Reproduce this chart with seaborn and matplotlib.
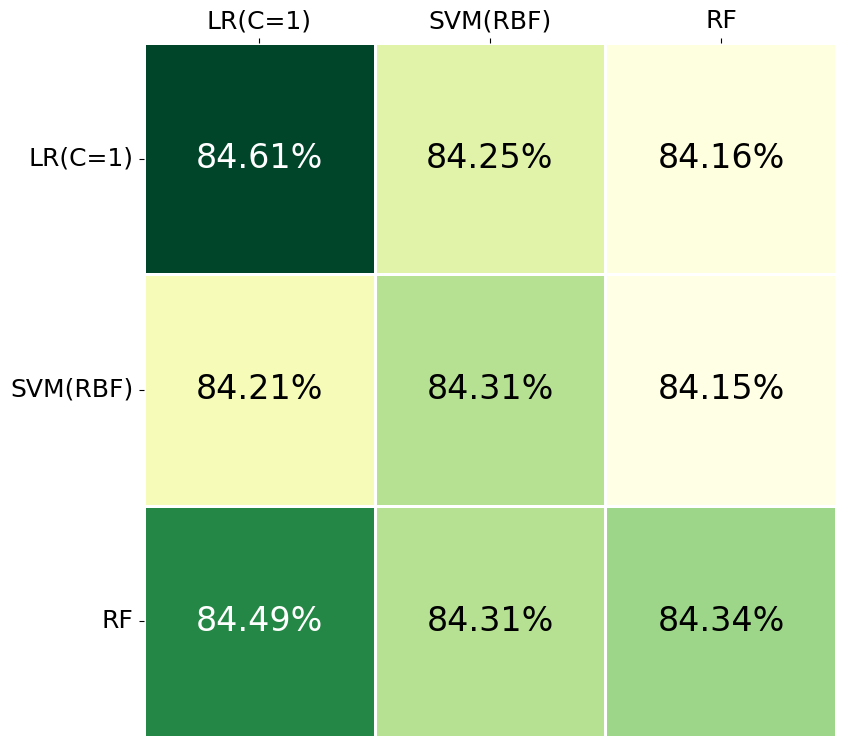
import matplotlib
matplotlib.use("Agg")
import matplotlib.pyplot as plt
import seaborn as sns
import numpy as np
import pandas as pd

models = ["LR(C=1)", "SVM(RBF)", "RF"]
row_lr = [84.61, 84.25, 84.16]
row_svm = [84.21, 84.31, 84.15]
row_rf = [84.49, 84.31, 84.34]

df = pd.DataFrame([row_lr, row_svm, row_rf], index=models, columns=models)
annot = df.map(lambda v: f"{v:.2f}%")

fig = plt.figure(figsize=(8.47, 7.48), dpi=100)
ax = fig.add_axes([0.1695, 0.0147, 0.818, 0.928])
sns.heatmap(df, ax=ax, cmap="YlGn", annot=annot, fmt="", cbar=False,
            linewidths=2, linecolor="white",
            annot_kws={"fontsize": 24})
for t in ax.texts:
    lum = np.mean(matplotlib.colors.to_rgb(t.get_color()))
    t.set_color("white" if lum > 0.5 else "black")
ax.xaxis.tick_top()
ax.tick_params(axis="both", labelsize=18)
plt.setp(ax.get_yticklabels(), rotation=0)
plt.setp(ax.get_xticklabels(), rotation=0)
ax.set_xlabel("")
ax.set_ylabel("")
fig.savefig("out.png", dpi=100)
